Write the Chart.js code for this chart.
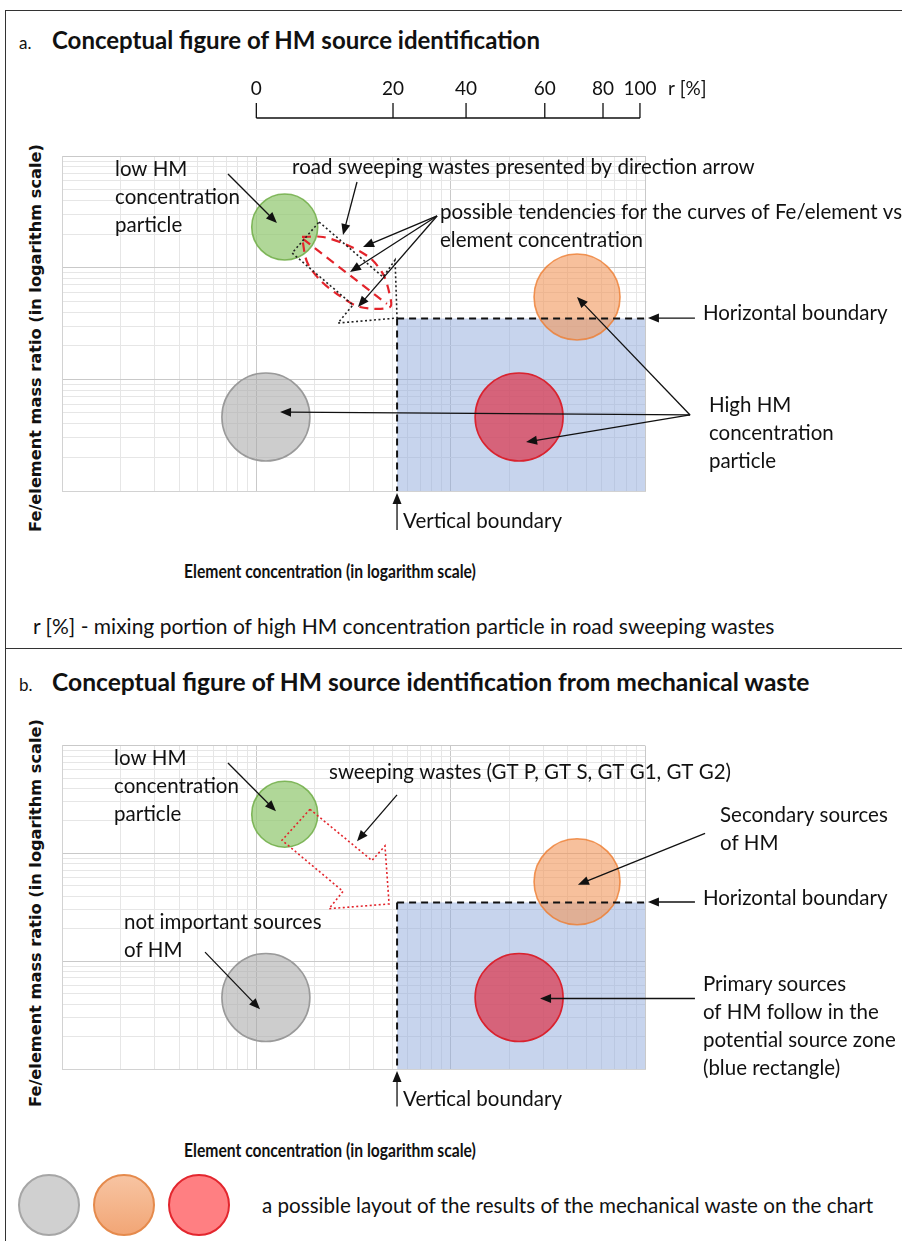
<!DOCTYPE html>
<html>
<head>
<meta charset="utf-8">
<script src="https://cdn.jsdelivr.net/npm/chart.js@4.4.1/dist/chart.umd.min.js"></script>
<style>
  body { margin: 0; width: 902px; height: 1241px; position: relative; background: #fff; overflow: hidden;
         font-family: Lato, "Open Sans", sans-serif; color: #111; }
  .t { position: absolute; white-space: nowrap; line-height: 1; transform: translateY(-50%); }
  .bold { font-weight: bold; }
  .ytitle { position: absolute; white-space: nowrap; font-family: "DejaVu Sans", sans-serif; font-weight: bold;
            font-size: 16.2px; transform: translate(-50%, -50%) rotate(-90deg); }
  .xtitle { position: absolute; white-space: nowrap; font-weight: bold; font-size: 18px; transform: translate(-50%, -50%) scaleX(0.87); }
  .frame { position: absolute; left: 5px; top: 10px; width: 897px; height: 1231px;
           border-left: 1.5px solid #333; border-top: 1.5px solid #333; }
  .sep { position: absolute; left: 5px; top: 648px; width: 897px; border-top: 1.5px solid #333; }
  .dot { position: absolute; width: 62px; height: 62px; border-radius: 50%; transform: translate(-50%, -50%); box-sizing: border-box; }
  canvas { position: absolute; left: 0; }
</style>
</head>
<body>
<div class="frame"></div>
<div class="sep"></div>

<div class="t" style="left:19px; top:42px; font-size:17px;">a.</div>
<div class="t bold" style="left:52px; top:40px; font-size:24px;">Conceptual figure of HM source identification</div>
<div class="ytitle" style="left:35px; top:338px;">Fe/element mass ratio (in logarithm scale)</div>
<div class="xtitle" style="left:330px; top:571px;">Element concentration (in logarithm scale)</div>
<div class="t" style="left:33px; top:625px; font-size:21px;">r [%] - mixing portion of high HM concentration particle in road sweeping wastes</div>

<div class="t" style="left:19px; top:684px; font-size:17px;">b.</div>
<div class="t bold" style="left:52px; top:682px; font-size:24.6px;">Conceptual figure of HM source identification from mechanical waste</div>
<div class="ytitle" style="left:35px; top:913px;">Fe/element mass ratio (in logarithm scale)</div>
<div class="xtitle" style="left:330px; top:1150px;">Element concentration (in logarithm scale)</div>

<div class="dot" style="left:49px; top:1205px; background:#d0d0d0; border:2px solid #a6a6a6;"></div>
<div class="dot" style="left:124px; top:1205px; background:linear-gradient(#f7c4a2,#f2a676); border:2px solid #e58a4c;"></div>
<div class="dot" style="left:199px; top:1205px; background:#ff7f82; border:2px solid #e3262e;"></div>
<div class="t" style="left:262px; top:1205px; font-size:20.6px;">a possible layout of the results of the mechanical waste on the chart</div>

<canvas id="chartA" width="902" height="490" style="top:60px"></canvas>
<canvas id="chartB" width="902" height="430" style="top:700px"></canvas>

<script>
// axis range (both axes logarithmic, 3 decades)
const axisMin = 1;
const axisMax = 1000;
const gridTicks = [];
for (let d = 1; d < axisMax; d *= 10) {
  for (let k = 1; k < 10; k++) gridTicks.push(k * d);
}
gridTicks.push(axisMax);

// particle groups: low HM, not important, secondary, primary
const particleConc = [14, 11.2, 447, 225];
const particleRatio = [231, 4.6, 54.6, 4.6];
const particleSize = [33, 44, 43, 44];

// boundaries of the potential source zone
const boundaryConc = 53;
const boundaryRatio = 35;

// r [%] scale on top of panel a, placed on element concentration
const rTicks = [0, 20, 40, 60, 80, 100];
const rConc = [10, 50.5, 120, 305, 608, 942];

// outlines in log10 units (decade, decade)
const sweepArrowA = [[1.323, 2.409], [1.652, 1.916], [1.714, 2.069], [1.724, 1.549], [1.420, 1.504],
                     [1.497, 1.666], [1.184, 2.131], [1.323, 2.409]];
const tendencyOutline = [[1.235, 2.275], [1.343, 2.275], [1.467, 2.203], [1.585, 2.087], [1.652, 1.943],
                         [1.683, 1.782], [1.688, 1.648], [1.533, 1.648], [1.415, 1.764], [1.328, 1.889],
                         [1.261, 2.051], [1.235, 2.275]];
const tendencyMiddle = [[1.240, 2.257], [1.672, 1.675]];
const sweepArrowB = [[1.276, 2.409], [1.595, 1.934], [1.662, 2.069], [1.683, 1.531], [1.374, 1.487],
                     [1.446, 1.648], [1.132, 2.122], [1.276, 2.409]];

// annotations (log10 units)
const notesA = [
  { lines: ['low HM', 'concentration', 'particle'], at: [0.273, 2.884] },
  { lines: ['road sweeping wastes presented by direction arrow'], at: [1.184, 2.901] },
  { lines: ['possible tendencies for the curves of Fe/element vs', 'element concentration'], at: [1.945, 2.498] },
  { lines: ['Horizontal boundary'], at: [3.298, 1.594] },
  { lines: ['High HM', 'concentration', 'particle'], at: [3.329, 0.770] },
  { lines: ['Vertical boundary'], at: [1.755, -0.269] }
];
const arrowsA = [
  [[0.854, 2.839], [1.106, 2.400]],
  [[1.518, 2.767], [1.446, 2.292]],
  [[1.930, 2.463], [1.549, 2.185]],
  [[1.930, 2.463], [1.482, 1.961]],
  [[1.930, 2.463], [1.523, 1.648]],
  [[3.257, 1.549], [3.015, 1.549]],
  [[3.232, 0.681], [2.650, 1.737]],
  [[3.232, 0.681], [2.388, 0.439]],
  [[3.232, 0.681], [1.122, 0.707]],
  [[1.724, -0.349], [1.724, -0.018]]
];
const notesB = [
  { lines: ['low HM', 'concentration', 'particle'], at: [0.268, 2.884] },
  { lines: ['sweeping wastes (GT P, GT S, GT G1, GT G2)'], at: [1.374, 2.749] },
  { lines: ['not important sources', 'of HM'], at: [0.319, 1.361] },
  { lines: ['Secondary sources', 'of HM'], at: [3.386, 2.355] },
  { lines: ['Horizontal boundary'], at: [3.298, 1.585] },
  { lines: ['Primary sources', 'of HM follow in the', 'potential source zone', '(blue rectangle)'], at: [3.298, 0.788] },
  { lines: ['Vertical boundary'], at: [1.755, -0.278] }
];
const arrowsB = [
  [[0.854, 2.839], [1.101, 2.391]],
  [[1.724, 2.543], [1.518, 2.113]],
  [[0.736, 1.084], [1.019, 0.555]],
  [[3.309, 2.185], [2.655, 1.710]],
  [[3.257, 1.549], [3.015, 1.549]],
  [[3.257, 0.654], [2.460, 0.654]],
  [[1.724, -0.349], [1.724, -0.018]]
];

const toXY = p => ({ x: Math.pow(10, p[0]), y: Math.pow(10, p[1]) });

function drawArrow(ctx, x1, y1, x2, y2) {
  const a = Math.atan2(y2 - y1, x2 - x1);
  const len = 11, w = 4.5;
  ctx.beginPath();
  ctx.moveTo(x1, y1);
  ctx.lineTo(x2 - Math.cos(a) * len * 0.8, y2 - Math.sin(a) * len * 0.8);
  ctx.stroke();
  ctx.beginPath();
  ctx.moveTo(x2, y2);
  ctx.lineTo(x2 - len * Math.cos(a) + w * Math.sin(a), y2 - len * Math.sin(a) - w * Math.cos(a));
  ctx.lineTo(x2 - len * Math.cos(a) - w * Math.sin(a), y2 - len * Math.sin(a) + w * Math.cos(a));
  ctx.closePath();
  ctx.fill();
}

// text, arrows and the r scale
const notesPlugin = {
  id: 'notes',
  afterDatasetsDraw(chart, args, opts) {
    const { ctx } = chart;
    const sx = chart.scales.x, sy = chart.scales.y;
    const px = e => sx.getPixelForValue(Math.pow(10, e));
    const py = e => sy.getPixelForValue(Math.pow(10, e));
    ctx.save();
    ctx.fillStyle = '#111';
    ctx.strokeStyle = '#111';
    ctx.lineWidth = 1.3;
    ctx.font = '20.5px Lato';
    ctx.textBaseline = 'middle';
    ctx.textAlign = 'left';
    opts.notes.forEach(n => {
      n.lines.forEach((s, i) => ctx.fillText(s, px(n.at[0]), py(n.at[1]) + i * 28));
    });
    opts.arrows.forEach(a => drawArrow(ctx, px(a[0][0]), py(a[0][1]), px(a[1][0]), py(a[1][1])));

    if (opts.rScale) {
      const top = chart.chartArea.top;
      const xs = rConc.map(v => sx.getPixelForValue(v));
      ctx.beginPath();
      ctx.moveTo(xs[0], top - 38);
      ctx.lineTo(xs[xs.length - 1], top - 38);
      xs.forEach(p => { ctx.moveTo(p, top - 53); ctx.lineTo(p, top - 38); });
      ctx.stroke();
      ctx.font = '19px Lato';
      ctx.textAlign = 'center';
      xs.forEach((p, i) => ctx.fillText(String(rTicks[i]), p, top - 67));
      ctx.textAlign = 'left';
      ctx.fillText('r [%]', xs[xs.length - 1] + 28, top - 67);
    }
    ctx.restore();
  }
};

const isDecade = v => Math.abs(Math.log10(v) - Math.round(Math.log10(v))) < 1e-9;

function logAxis() {
  return {
    type: 'logarithmic',
    min: axisMin,
    max: axisMax,
    afterBuildTicks: s => { s.ticks = gridTicks.map(v => ({ value: v })); },
    ticks: { display: false },
    grid: {
      drawTicks: false,
      lineWidth: 1,
      color: c => (c.tick && isDecade(c.tick.value)) ? '#c9c9c9' : '#e6e6e6'
    },
    border: { display: true, color: '#d2d2d2' }
  };
}

function makeChart(id, padTop, padBottom, sweepShape, sweepColor, withTendency, notes, arrows, rScale) {
  const particles = particleConc.map((c, i) => ({ x: c, y: particleRatio[i], r: particleSize[i] }));
  const datasets = [
    { type: 'line', label: 'Horizontal boundary', order: 1,
      data: [{ x: boundaryConc, y: boundaryRatio }, { x: axisMax, y: boundaryRatio }],
      borderColor: '#111', borderWidth: 2, borderDash: [7, 5], pointRadius: 0, showLine: true },
    { type: 'line', label: 'Vertical boundary', order: 1,
      data: [{ x: boundaryConc, y: boundaryRatio }, { x: boundaryConc, y: axisMin }],
      borderColor: '#111', borderWidth: 2, borderDash: [7, 5], pointRadius: 0, showLine: true },
    { type: 'line', label: 'road sweeping wastes', order: 2,
      data: sweepShape.map(toXY),
      borderColor: sweepColor, borderWidth: 1.6, borderDash: [2, 2.5], pointRadius: 0, showLine: true }
  ];
  if (withTendency) {
    datasets.push(
      { type: 'line', label: 'possible tendencies', order: 2,
        data: tendencyOutline.map(toXY), tension: 0.3,
        borderColor: '#e3242b', borderWidth: 2.2, borderDash: [9, 6], pointRadius: 0, showLine: true },
      { type: 'line', label: 'possible tendencies (middle)', order: 2,
        data: tendencyMiddle.map(toXY),
        borderColor: '#e3242b', borderWidth: 2.2, borderDash: [9, 6], pointRadius: 0, showLine: true });
  }
  datasets.push(
    { type: 'bubble', label: 'particles', order: 3, data: particles,
      backgroundColor: ['rgba(146,200,112,0.72)', 'rgba(168,168,168,0.58)', 'rgba(241,150,90,0.6)', 'rgba(222,40,62,0.65)'],
      borderColor: ['rgba(112,173,71,0.85)', '#9a9a9a', 'rgba(237,125,49,0.8)', '#d9232f'],
      borderWidth: 1.6 },
    { type: 'line', label: 'potential source zone', order: 4,
      data: [{ x: boundaryConc, y: boundaryRatio }, { x: axisMax, y: boundaryRatio }],
      borderColor: 'rgba(0,0,0,0)', borderWidth: 1, pointRadius: 0, showLine: true,
      fill: 'start', backgroundColor: 'rgba(143,170,220,0.5)' }
  );

  return new Chart(document.getElementById(id), {
    type: 'scatter',
    data: { datasets },
    options: {
      responsive: false,
      animation: false,
      events: [],
      layout: { padding: { left: 62, right: 257, top: padTop, bottom: padBottom } },
      scales: { x: logAxis(), y: logAxis() },
      plugins: {
        legend: { display: false },
        tooltip: { enabled: false },
        notes: { notes, arrows, rScale }
      }
    },
    plugins: [notesPlugin]
  });
}

makeChart('chartA', 96, 59, sweepArrowA, '#222', true, notesA, arrowsA, true);
makeChart('chartB', 34, 61, sweepArrowB, '#e3242b', false, notesB, arrowsB, false);
</script>
</body>
</html>
